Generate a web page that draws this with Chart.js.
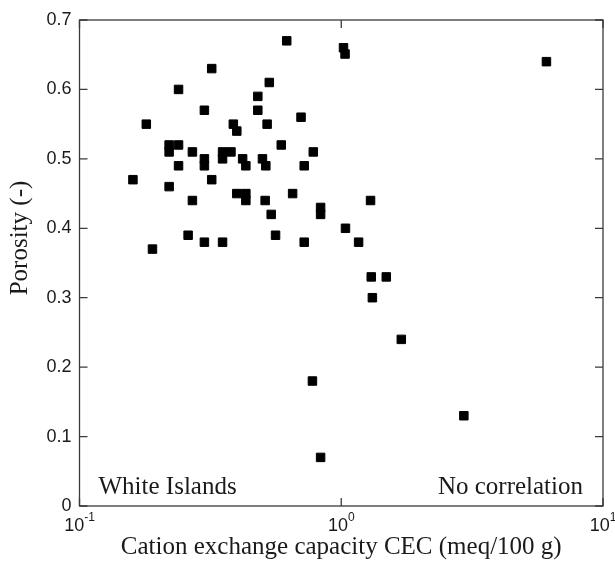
<!DOCTYPE html>
<html>
<head>
    <meta charset="UTF-8">
    <title>Porosity vs CEC</title>
    <script src="https://cdn.jsdelivr.net/npm/chart.js@4.4.1/dist/chart.umd.min.js"></script>
    <style>
        body { margin: 0; background: #fff; }
    </style>
</head>
<body>
    <canvas id="myChart" width="615" height="564"></canvas>
    <script type="text/javascript">
        // CEC (meq/100 g) and porosity (-)
        var cec = [0.619, 0.320, 0.239, 0.531, 0.480, 0.480, 0.300, 0.180, 0.387, 0.399,
                   0.521, 0.702, 0.220, 0.220, 0.239, 0.590, 0.270, 0.782, 0.300, 0.300,
                   0.352, 0.352, 0.379, 0.420, 0.432, 0.500, 0.515, 0.239, 0.722, 0.160,
                   0.320, 0.220, 0.399, 0.432, 0.432, 0.270, 0.512, 0.652, 0.540, 0.834,
                   0.834, 1.038, 0.260, 0.561, 0.300, 0.352, 0.722, 0.190, 1.020, 1.034,
                   6.08, 1.294, 1.165, 1.302, 1.486, 1.315, 1.696, 2.94, 0.776, 0.834];
        var porosity = [0.67, 0.63, 0.60, 0.61, 0.59, 0.57, 0.57, 0.55, 0.55, 0.54,
                        0.55, 0.56, 0.52, 0.51, 0.52, 0.52, 0.51, 0.51, 0.50, 0.49,
                        0.51, 0.50, 0.51, 0.50, 0.49, 0.50, 0.49, 0.49, 0.49, 0.47,
                        0.47, 0.46, 0.45, 0.45, 0.44, 0.44, 0.44, 0.45, 0.42, 0.43,
                        0.42, 0.40, 0.39, 0.39, 0.38, 0.38, 0.38, 0.37, 0.66, 0.651,
                        0.64, 0.44, 0.38, 0.33, 0.33, 0.30, 0.24, 0.13, 0.18, 0.07];

        var yTickValues = [0, 0.1, 0.2, 0.3, 0.4, 0.5, 0.6, 0.7];
        var xDecades = [-1, 0, 1];
        var xTitle = "Cation exchange capacity CEC (meq/100 g)";
        var yTitle = "Porosity (-)";
        var leftNote = "White Islands";
        var rightNote = "No correlation";

        var points = [];
        for (var i = 0; i < cec.length; i++) {
            points.push({ x: cec[i], y: porosity[i] });
        }

        var axisColor = "#3a3a3a";
        var textColor = "#1a1a1a";
        var serif = "'Liberation Serif', 'Times New Roman', serif";
        var sans = "'Liberation Sans', Arial, sans-serif";

        // white background, box, inward ticks, x labels with superscripts, notes
        var framePlugin = {
            id: "frame",
            beforeDraw: function (chart) {
                var ctx = chart.ctx;
                ctx.save();
                ctx.fillStyle = "#ffffff";
                ctx.fillRect(0, 0, chart.width, chart.height);
                ctx.restore();
            },
            afterDraw: function (chart) {
                var ctx = chart.ctx;
                var a = chart.chartArea;
                var xs = chart.scales.x;
                var ys = chart.scales.y;
                var tick = 8;
                ctx.save();
                ctx.strokeStyle = axisColor;
                ctx.lineWidth = 1.3;
                ctx.strokeRect(a.left, a.top, a.right - a.left, a.bottom - a.top);

                ctx.beginPath();
                yTickValues.forEach(function (v) {
                    var py = ys.getPixelForValue(v);
                    ctx.moveTo(a.left, py); ctx.lineTo(a.left + tick, py);
                    ctx.moveTo(a.right, py); ctx.lineTo(a.right - tick, py);
                });
                xDecades.forEach(function (e) {
                    var px = xs.getPixelForValue(Math.pow(10, e));
                    ctx.moveTo(px, a.bottom); ctx.lineTo(px, a.bottom - tick);
                    ctx.moveTo(px, a.top); ctx.lineTo(px, a.top + tick);
                });
                ctx.stroke();

                // 10^n labels
                ctx.fillStyle = textColor;
                ctx.textBaseline = "alphabetic";
                ctx.textAlign = "left";
                xDecades.forEach(function (e) {
                    var px = xs.getPixelForValue(Math.pow(10, e));
                    ctx.font = "18px " + sans;
                    var wBase = ctx.measureText("10").width;
                    ctx.font = "12px " + sans;
                    var sup = String(e);
                    var wSup = ctx.measureText(sup).width;
                    var x0 = px - (wBase + wSup) / 2;
                    ctx.font = "18px " + sans;
                    ctx.fillText("10", x0, a.bottom + 25);
                    ctx.font = "12px " + sans;
                    ctx.fillText(sup, x0 + wBase, a.bottom + 15);
                });

                // y axis title
                ctx.save();
                ctx.font = "25px " + serif;
                ctx.textAlign = "center";
                ctx.translate(27, 238);
                ctx.rotate(-Math.PI / 2);
                ctx.fillText(yTitle, 0, 0);
                ctx.restore();

                // notes in the corners
                ctx.font = "25px " + serif;
                ctx.textAlign = "left";
                ctx.fillText(leftNote, a.left + 19, a.bottom - 12);
                ctx.textAlign = "right";
                ctx.fillText(rightNote, a.right - 20, a.bottom - 12);
                ctx.restore();
            }
        };

        new Chart("myChart", {
            type: "scatter",
            data: {
                datasets: [{
                    data: points,
                    pointStyle: "rect",
                    pointRadius: 6,
                    pointHoverRadius: 6,
                    backgroundColor: "#000000",
                    borderColor: "#000000",
                    borderWidth: 1
                }]
            },
            options: {
                responsive: false,
                animation: false,
                devicePixelRatio: 1,
                layout: { padding: { top: 20, right: 12, left: 0, bottom: 0 } },
                plugins: {
                    legend: { display: false },
                    tooltip: { enabled: false }
                },
                scales: {
                    x: {
                        type: "logarithmic",
                        min: 0.1,
                        max: 10,
                        grid: { display: false },
                        border: { display: false },
                        ticks: { display: false },
                        title: {
                            display: true,
                            text: xTitle,
                            color: textColor,
                            font: { family: serif, size: 25 },
                            padding: { top: 0, bottom: 2 }
                        },
                        afterFit: function (scale) { scale.height = 58; }
                    },
                    y: {
                        min: 0,
                        max: 0.7,
                        grid: { display: false, drawTicks: false },
                        border: { display: false },
                        ticks: {
                            stepSize: 0.1,
                            color: textColor,
                            padding: 8,
                            font: { family: sans, size: 18 }
                        },
                        afterFit: function (scale) { scale.width = 79.5; }
                    }
                }
            },
            plugins: [framePlugin]
        });
    </script>
</body>
</html>
